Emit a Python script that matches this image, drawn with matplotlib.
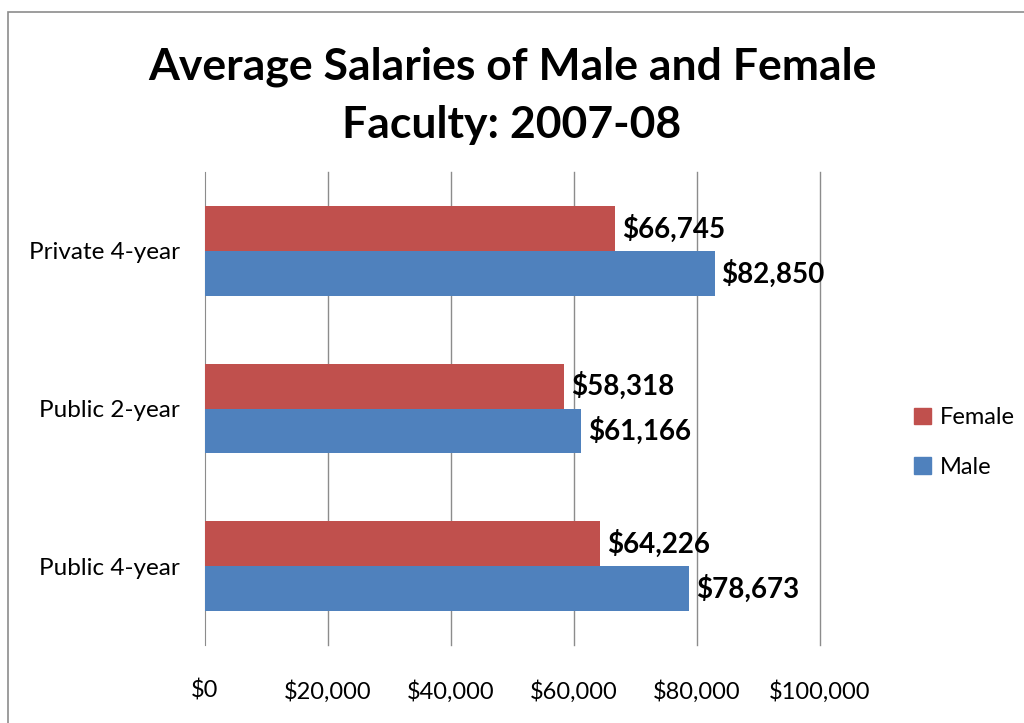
import matplotlib.pyplot as plt
from matplotlib.patches import Rectangle, Patch

categories = ["Public 4-year", "Public 2-year", "Private 4-year"]
female = [64226, 58318, 66745]
male = [78673, 61166, 82850]
xticks = [0, 20000, 40000, 60000, 80000, 100000]

FEMALE_C = "#C0504D"
MALE_C = "#4F81BD"

plt.rcParams["font.family"] = ["Lato", "DejaVu Sans"]

fig = plt.figure(figsize=(10.24, 7.23), dpi=100)
fig.patches.append(Rectangle((8 / 1024, -0.1), 1.2, 1 - 12 / 723 + 0.1, transform=fig.transFigure,
                             fill=False, edgecolor="#8c8c8c", linewidth=1.2))
ax = fig.add_axes([205 / 1024, 78 / 723, 615 / 1024, 473 / 723])

h = 0.285
ys = list(range(len(categories)))
ax.barh([y + h / 2 for y in ys], female, height=h, color=FEMALE_C, label="Female", zorder=3)
ax.barh([y - h / 2 for y in ys], male, height=h, color=MALE_C, label="Male", zorder=3)

for y, f, m in zip(ys, female, male):
    ax.annotate(f"${f:,}", (f, y + h / 2), xytext=(5, 0), textcoords="offset points",
                va="center", ha="left", fontsize=20, fontweight="bold")
    ax.annotate(f"${m:,}", (m, y - h / 2), xytext=(5, 0), textcoords="offset points",
                va="center", ha="left", fontsize=20, fontweight="bold")

ax.set_xlim(0, 100000)
ax.set_ylim(-0.5, 2.5)
ax.set_xticks(xticks)
ax.set_xticklabels([f"${v:,}" for v in xticks], fontsize=17)
ax.set_yticks(ys)
ax.set_yticklabels(categories, fontsize=17.5)
ax.tick_params(axis="x", length=0, pad=25)
ax.tick_params(axis="y", length=0, pad=18)
for v in xticks[1:]:
    ax.axvline(v, color="#8c8c8c", linewidth=1, zorder=0, clip_on=False)
for s in ["top", "right", "bottom"]:
    ax.spines[s].set_visible(False)
ax.spines["left"].set_color("#8c8c8c")

fig.text(0.5, 0.867, "Average Salaries of Male and Female\nFaculty: 2007-08", ha="center", va="center",
         fontsize=32, fontweight="bold", linespacing=1.55)

handles = [Patch(color=FEMALE_C, label="Female"), Patch(color=MALE_C, label="Male")]
fig.legend(handles=handles, loc="center left", bbox_to_anchor=(893 / 1024, 0.388), frameon=False,
           fontsize=17, handlelength=0.7, handleheight=0.7, handletextpad=0.4, labelspacing=1.2)

fig.savefig("out.png", dpi=100)
